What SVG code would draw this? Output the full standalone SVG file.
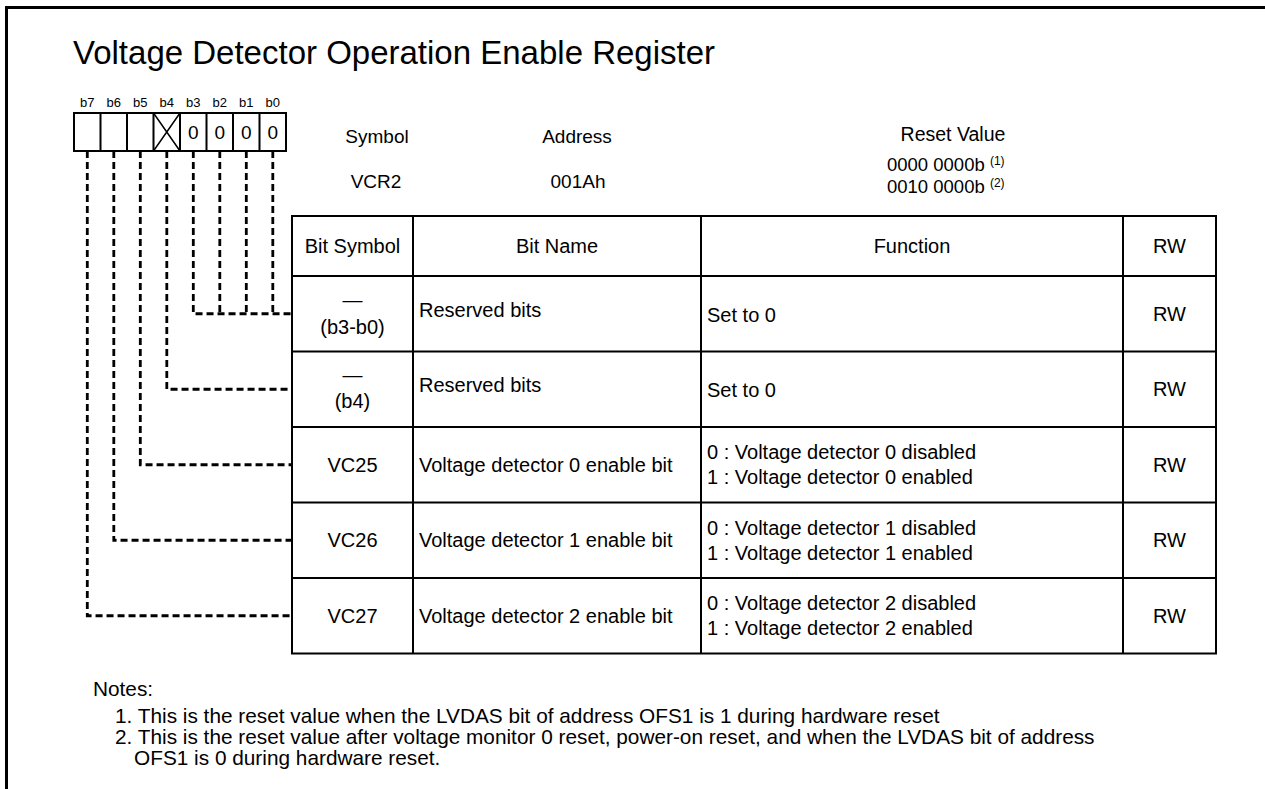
<svg xmlns="http://www.w3.org/2000/svg" width="1265" height="789" viewBox="0 0 1265 789">
<style>
text{font-family:"Liberation Sans",Arial,sans-serif;fill:#000}
.t20{font-size:20px}
.t19{font-size:19px}
.c{text-anchor:middle}
.bl{font-size:13px;text-anchor:middle}
.cell{fill:#fff;stroke:#000;stroke-width:2}
.grid{stroke:#000;stroke-width:2;fill:none}
.dash{stroke:#000;stroke-width:2.8;fill:none;stroke-dasharray:7 4}
.frame{stroke:#000;stroke-width:3;fill:none}
.sup{font-size:12px}
</style>
<rect x="0" y="0" width="1265" height="789" fill="#fff"/>
<path class="frame" d="M1265,7.5 H6.5 V789"/>
<text x="73" y="64" style="font-size:33px">Voltage Detector Operation Enable Register</text>

<g id="bitfield">
  <g class="bl">
    <text x="87.3" y="107">b7</text><text x="113.8" y="107">b6</text><text x="140.3" y="107">b5</text><text x="166.8" y="107">b4</text>
    <text x="193.3" y="107">b3</text><text x="219.8" y="107">b2</text><text x="246.3" y="107">b1</text><text x="272.8" y="107">b0</text>
  </g>
  <rect class="cell" x="74" y="113" width="212" height="38"/>
  <path class="grid" d="M100.5,113V151M127,113V151M153.5,113V151M180,113V151M206.5,113V151M233,113V151M259.5,113V151"/>
  <path d="M153.5,113L180,151M180,113L153.5,151" stroke="#000" stroke-width="1.5"/>
  <g class="c" style="font-size:19px">
    <text x="193.3" y="139">0</text><text x="219.8" y="139">0</text><text x="246.3" y="139">0</text><text x="272.8" y="139">0</text>
  </g>
</g>

<g id="header">
  <text class="t19 c" x="377" y="143">Symbol</text>
  <text class="t19 c" x="376" y="188">VCR2</text>
  <text class="t19 c" x="577" y="143">Address</text>
  <text class="t19 c" x="578" y="188">001Ah</text>
  <text class="c" style="font-size:19.5px" x="953" y="141">Reset Value</text>
  <text style="font-size:18.5px" x="887" y="171">0000 0000b <tspan class="sup" dy="-6">(1)</tspan></text>
  <text style="font-size:18.5px" x="887" y="193">0010 0000b <tspan class="sup" dy="-6">(2)</tspan></text>
</g>

<g id="connectors">
  <path class="dash" d="M193.3,151V313.75H292"/>
  <path class="dash" d="M219.8,151V313.75"/>
  <path class="dash" d="M246.3,151V313.75"/>
  <path class="dash" d="M272.8,151V313.75"/>
  <path class="dash" d="M166.8,151V389.25H292"/>
  <path class="dash" d="M140.3,151V464.75H292"/>
  <path class="dash" d="M113.8,151V540.25H292"/>
  <path class="dash" d="M87.3,151V615.75H292"/>
</g>

<g id="table">
  <rect class="grid" x="292" y="216" width="924" height="437.5" fill="#fff"/>
  <path class="grid" d="M413,216V653.5M701,216V653.5M1123,216V653.5M292,276H1216M292,351.5H1216M292,427H1216M292,502.5H1216M292,578H1216"/>
  <g id="row-header" class="t20">
    <text class="c" x="352.5" y="253">Bit Symbol</text>
    <text class="c" x="557" y="253">Bit Name</text>
    <text class="c" x="912" y="253">Function</text>
    <text class="c" x="1169.5" y="253">RW</text>
  </g>
  <g id="row-b3b0" class="t20">
    <text class="c" x="352.5" y="307">—</text>
    <text class="c" x="352.5" y="334">(b3-b0)</text>
    <text x="419" y="317">Reserved bits</text>
    <text x="707" y="322">Set to 0</text>
    <text class="c" x="1169.5" y="321">RW</text>
  </g>
  <g id="row-b4" class="t20">
    <text class="c" x="352.5" y="382">—</text>
    <text class="c" x="352.5" y="408">(b4)</text>
    <text x="419" y="392">Reserved bits</text>
    <text x="707" y="397">Set to 0</text>
    <text class="c" x="1169.5" y="396">RW</text>
  </g>
  <g id="row-vc25" class="t20">
    <text class="c" x="352.5" y="472">VC25</text>
    <text x="419" y="472">Voltage detector 0 enable bit</text>
    <text x="707" y="459">0 : Voltage detector 0 disabled</text>
    <text x="707" y="484">1 : Voltage detector 0 enabled</text>
    <text class="c" x="1169.5" y="472">RW</text>
  </g>
  <g id="row-vc26" class="t20">
    <text class="c" x="352.5" y="547">VC26</text>
    <text x="419" y="547">Voltage detector 1 enable bit</text>
    <text x="707" y="535">0 : Voltage detector 1 disabled</text>
    <text x="707" y="560">1 : Voltage detector 1 enabled</text>
    <text class="c" x="1169.5" y="547">RW</text>
  </g>
  <g id="row-vc27" class="t20">
    <text class="c" x="352.5" y="623">VC27</text>
    <text x="419" y="623">Voltage detector 2 enable bit</text>
    <text x="707" y="610">0 : Voltage detector 2 disabled</text>
    <text x="707" y="635">1 : Voltage detector 2 enabled</text>
    <text class="c" x="1169.5" y="623">RW</text>
  </g>
</g>

<g id="notes" style="font-size:20.8px">
  <text x="93" y="696">Notes:</text>
  <text x="115" y="723">1. This is the reset value when the LVDAS bit of address OFS1 is 1 during hardware reset</text>
  <text x="115" y="744">2. This is the reset value after voltage monitor 0 reset, power-on reset, and when the LVDAS bit of address</text>
  <text x="134" y="765">OFS1 is 0 during hardware reset.</text>
</g>
</svg>
